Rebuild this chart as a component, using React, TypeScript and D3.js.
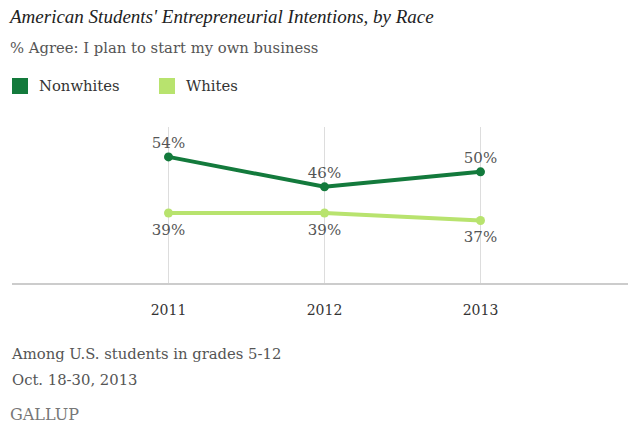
import React from "react";
import * as d3 from "d3";

const years = ["2011", "2012", "2013"];
const nonwhites = [54, 46, 50];
const whites = [39, 39, 37];
const seriesNames = ["Nonwhites", "Whites"];

const W = 628;
const H = 431;
const DARK = "#137a3c";
const LIGHT = "#b8e36e";
const TEXT = "#555";
const TITLE_FONT = "Georgia, 'Liberation Serif', serif";
const FONT = "'DejaVu Serif', Georgia, serif";

export default function App() {
  const x = d3.scalePoint<string>().domain(years).range([168.5, 480.5]);
  const y = d3.scaleLinear().domain([20, 62]).range([284, 127]);
  const line = d3
    .line<number>()
    .x((_, i) => x(years[i]) as number)
    .y((d) => y(d));

  const series = [
    { name: seriesNames[0], values: nonwhites, color: DARK, above: true },
    { name: seriesNames[1], values: whites, color: LIGHT, above: false },
  ];

  return (
    <svg
      width={W}
      height={H}
      style={{ position: "absolute", left: 0, top: 0, background: "#fff" }}
      fontFamily={FONT}
    >
      <rect width={W} height={H} fill="#fff" />
      <text x={10} y={23} fontSize={19} fontStyle="italic" fill="#222" fontFamily={TITLE_FONT}>
        American Students' Entrepreneurial Intentions, by Race
      </text>
      <text x={10} y={53} fontSize={14.8} fill={TEXT}>
        % Agree: I plan to start my own business
      </text>
      {series.map((s, i) => (
        <g key={s.name} transform={`translate(${12 + i * 147},78)`}>
          <rect width={16} height={16} fill={s.color} />
          <text x={27} y={13} fontSize={14.8} fill="#333">
            {s.name}
          </text>
        </g>
      ))}
      {years.map((yr) => (
        <line
          key={yr}
          x1={x(yr)}
          x2={x(yr)}
          y1={y(62)}
          y2={y(20)}
          stroke="#ddd"
          strokeWidth={1}
        />
      ))}
      <line x1={12} x2={628} y1={y(20)} y2={y(20)} stroke="#ccc" strokeWidth={2} />
      {years.map((yr) => (
        <text
          key={yr}
          x={x(yr)}
          y={315}
          fontSize={14}
          textAnchor="middle"
          fill="#333"
        >
          {yr}
        </text>
      ))}
      {series.map((s) => (
        <g key={s.name}>
          <path d={line(s.values) || ""} fill="none" stroke={s.color} strokeWidth={4} />
          {s.values.map((v, i) => (
            <circle key={i} cx={x(years[i])} cy={y(v)} r={4.5} fill={s.color} />
          ))}
          {s.values.map((v, i) => (
            <text
              key={"t" + i}
              x={x(years[i])}
              y={s.above ? y(v) - 9 : y(v) + 22}
              fontSize={15}
              textAnchor="middle"
              fill={TEXT}
            >
              {v}%
            </text>
          ))}
        </g>
      ))}
      <text x={12} y={359} fontSize={14.8} fill={TEXT}>
        Among U.S. students in grades 5-12
      </text>
      <text x={12} y={385} fontSize={14.8} fill={TEXT}>
        Oct. 18-30, 2013
      </text>
      <text x={10} y={420} fontSize={16} fill="#777">
        GALLUP
      </text>
    </svg>
  );
}
